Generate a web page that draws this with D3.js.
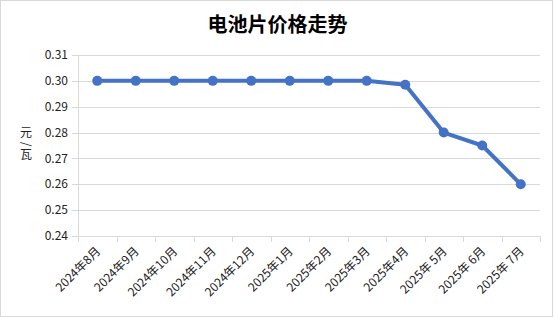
<!DOCTYPE html>
<html>
<head>
<meta charset="utf-8">
<script src="https://cdn.jsdelivr.net/npm/d3@7"></script>
<style>
  body { margin: 0; background: #fff; }
  svg { display: block; }
</style>
</head>
<body>
<div id="chart"></div>
<script>
// chart data
const title = "电池片价格走势";
const yTitle = ["元", "/", "瓦"];
const months = ["2024年8月", "2024年9月", "2024年10月", "2024年11月", "2024年12月", "2025年1月",
    "2025年2月", "2025年3月", "2025年4月", "2025年 5月", "2025年 6月", "2025年 7月"];
const prices = [0.30, 0.30, 0.30, 0.30, 0.30, 0.30, 0.30, 0.30, 0.2985, 0.28, 0.275, 0.26];
const yTicks = [0.24, 0.25, 0.26, 0.27, 0.28, 0.29, 0.30, 0.31];

const W = 555, H = 318;
const margin = { top: 55, right: 15, bottom: 82, left: 78 };
const width = W - margin.left - margin.right;
const height = H - margin.top - margin.bottom;
const font = "'Noto Sans CJK SC', sans-serif";

const svg = d3.select("#chart").append("svg")
    .attr("width", W)
    .attr("height", H);

// outer frame
svg.append("rect")
    .attr("x", 0.5).attr("y", 0.5)
    .attr("width", W - 3).attr("height", H - 2)
    .attr("fill", "#fff")
    .attr("stroke", "#d9d9d9");

svg.append("text")
    .attr("x", W / 2)
    .attr("y", 32)
    .attr("text-anchor", "middle")
    .attr("font-family", font)
    .attr("font-weight", "bold")
    .attr("font-size", 20)
    .attr("fill", "#000")
    .text(title);

const g = svg.append("g")
    .attr("transform", `translate(${margin.left},${margin.top})`);

// scales
const x = d3.scaleBand().domain(months).range([0, width]);
const y = d3.scaleLinear().domain([0.24, 0.31]).range([height, 0]);

// gridlines
g.append("g")
    .selectAll("line")
    .data(yTicks)
    .join("line")
    .attr("x1", -6).attr("x2", width)
    .attr("y1", d => Math.round(y(d)) + 0.5)
    .attr("y2", d => Math.round(y(d)) + 0.5)
    .attr("stroke", "#d9d9d9");

// y axis line
g.append("line")
    .attr("x1", 0.5).attr("x2", 0.5)
    .attr("y1", 0).attr("y2", height)
    .attr("stroke", "#d9d9d9");

// y labels
g.append("g")
    .selectAll("text")
    .data(yTicks)
    .join("text")
    .attr("x", -10)
    .attr("y", d => y(d))
    .attr("dy", "0.35em")
    .attr("text-anchor", "end")
    .attr("font-family", font)
    .attr("font-size", 12)
    .attr("fill", "#222")
    .text(d => d3.format(".2f")(d));

// x axis (labels drawn separately)
const xAxis = d3.axisBottom(x).tickSize(0).tickFormat("");
g.append("g")
    .attr("transform", `translate(0,${height})`)
    .call(xAxis)
    .call(a => a.select(".domain").remove());

// band boundary ticks
const bounds = months.map(m => x(m)).concat([width]);
g.append("g")
    .selectAll("line")
    .data(bounds)
    .join("line")
    .attr("x1", d => Math.round(d) + 0.5).attr("x2", d => Math.round(d) + 0.5)
    .attr("y1", height).attr("y2", height + 6)
    .attr("stroke", "#d9d9d9");

// x labels, rotated
g.append("g")
    .selectAll("text")
    .data(months)
    .join("text")
    .attr("transform", d => `translate(${x(d) + x.bandwidth() / 2 + 4},${height + 16}) rotate(-45)`)
    .attr("text-anchor", "end")
    .attr("font-family", font)
    .attr("font-size", 12)
    .attr("fill", "#222")
    .text(d => d);

// y axis title, stacked vertically
svg.append("g")
    .selectAll("text")
    .data(yTitle)
    .join("text")
    .attr("transform", (d, i) => `translate(26,${133 + i * 11})` + (d === "/" ? " rotate(90)" : ""))
    .attr("text-anchor", "middle")
    .attr("dy", "0.35em")
    .attr("font-family", font)
    .attr("font-size", 12)
    .attr("fill", "#222")
    .text(d => d);

// line
const line = d3.line()
    .x((d, i) => x(months[i]) + x.bandwidth() / 2)
    .y(d => y(d));

g.append("path")
    .datum(prices)
    .attr("fill", "none")
    .attr("stroke", "#4472C4")
    .attr("stroke-width", 4)
    .attr("stroke-linejoin", "round")
    .attr("d", line);

g.append("g")
    .selectAll("circle")
    .data(prices)
    .join("circle")
    .attr("cx", (d, i) => x(months[i]) + x.bandwidth() / 2)
    .attr("cy", d => y(d))
    .attr("r", 5)
    .attr("fill", "#4472C4");
</script>
</body>
</html>
